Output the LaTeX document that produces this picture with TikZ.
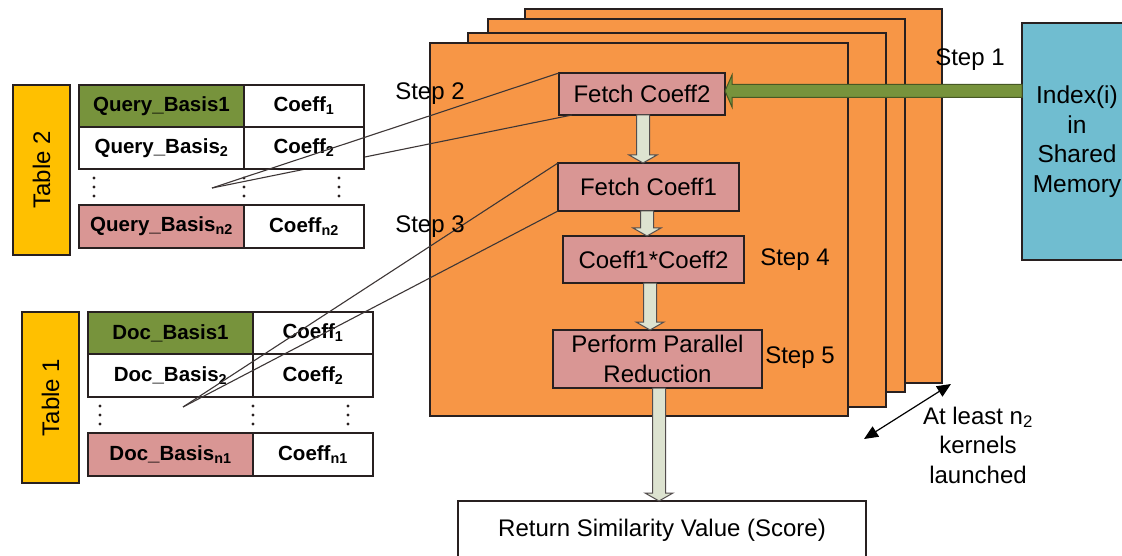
\documentclass[tikz,border=0pt]{standalone}
\usepackage{fontspec}
\setmainfont{Liberation Sans}
\usetikzlibrary{arrows.meta,calc}
\definecolor{korange}{HTML}{F79646}
\definecolor{kpink}{HTML}{D99694}
\definecolor{kgreen}{HTML}{77933C}
\definecolor{kblue}{RGB}{112,189,208}
\definecolor{kyellow}{HTML}{FFC000}
\definecolor{karrow}{RGB}{221,227,208}
\definecolor{edge}{RGB}{40,32,32}
\tikzset{
  kernel/.style={draw=edge, fill=korange, line width=1.3pt},
  stepbox/.style={draw=edge, fill=kpink, line width=1.3pt, inner sep=0pt, outer sep=0pt,
    anchor=north west, align=center, font=\fontsize{24}{30}\selectfont},
  cell/.style={draw=edge, line width=1.2pt, fill=white, inner sep=0pt, outer sep=0pt,
    anchor=north west, font=\bfseries\fontsize{20.5}{24}\selectfont},
  tablabel/.style={draw=edge, fill=kyellow, line width=1.2pt, inner sep=0pt, rotate=90,
    font=\fontsize{24}{28}\selectfont},
  steplabel/.style={inner sep=0pt, font=\fontsize{24}{29.5}\selectfont, align=center},
  link/.style={draw=edge!90, line width=1.1pt},
  blockarrow/.style={draw=edge!80, fill=karrow, line width=1pt, line join=miter},
  greenarrow/.style={draw=kgreen!60!black, fill=kgreen, line width=1pt},
}
\newcommand\blockarr[3]{%
  \draw[blockarrow] let \p1=(#2.south), \p2=(#3.north) in
    (#1pt-6.5pt,\y1) -- (#1pt-6.5pt,\y2+8pt) -- (#1pt-14pt,\y2+8pt) -- (#1pt,\y2)
    -- (#1pt+14pt,\y2+8pt) -- (#1pt+6.5pt,\y2+8pt) -- (#1pt+6.5pt,\y1) -- cycle;}
\begin{document}
\begin{tikzpicture}[x=1pt,y=-1pt]
\useasboundingbox (0,0) rectangle (1122,556);
\clip (0,0) rectangle (1122,556);
\fill[white] (0,0) rectangle (1122,556);

% stacked kernels
\draw[kernel] (525,9) rectangle (942,383);
\draw[kernel] (488,19) rectangle (905,392);
\draw[kernel] (468,33) rectangle (886,407);
\draw[kernel] (430,43) rectangle (848,416);

% step boxes
\node[stepbox, minimum width=166pt, minimum height=42pt] (fc2) at (559,73) {Fetch Coeff2};
\node[stepbox, minimum width=181pt, minimum height=48pt] (fc1) at (558,163) {Fetch Coeff1};
\node[stepbox, minimum width=181pt, minimum height=47pt] (mul) at (563,236) {Coeff1*Coeff2};
\node[stepbox, minimum width=209pt, minimum height=58pt] (red) at (553,330) {Perform Parallel\\Reduction};
\node[draw=edge, fill=white, line width=1.3pt, inner sep=0pt, outer sep=0pt, anchor=north west,
  minimum width=408pt, minimum height=58pt, font=\fontsize{24}{29}\selectfont] (ret) at (458,501)
  {Return Similarity Value (Score)};

% index box
\node[draw=edge, fill=kblue, line width=1.3pt, inner sep=0pt, outer sep=0pt, anchor=north west,
  minimum width=110pt, minimum height=237pt, align=center, font=\fontsize{24.5}{29.5}\selectfont]
  (idx) at (1022,23) {Index(i)\\in\\Shared\\Memory};

% free ends of the fetch lines
\coordinate (q2) at (212,188);
\coordinate (d2) at (183,407);

% line hidden behind table 2
\draw[link] (q2) -- ($(fc2.south west)+(13,0)$);

% Table 2
\node[tablabel, minimum width=170pt, minimum height=57pt] (t2) at (41.5,170) {Table 2};
\node[cell, fill=kgreen, minimum width=165pt, minimum height=42pt] (qb1) at (79,85) {Query\_Basis1};
\node[cell, minimum width=120pt, minimum height=42pt] (qc1) at (244,85) {Coeff\textsubscript{1}};
\node[cell, minimum width=165pt, minimum height=42pt] (qb2) at (79,127) {Query\_Basis\textsubscript{2}};
\node[cell, minimum width=120pt, minimum height=42pt] (qc2) at (244,127) {Coeff\textsubscript{2}};
\node[cell, fill=kpink, minimum width=165pt, minimum height=43pt] (qbn) at (79,205) {Query\_Basis\textsubscript{n2}};
\node[cell, minimum width=120pt, minimum height=43pt] (qcn) at (244,205) {Coeff\textsubscript{n2}};
\foreach \px in {94,244,339}
  \foreach \py in {178,187,196}
    \fill[edge] (\px,\py) circle[radius=1.7pt];

% Table 1
\node[tablabel, minimum width=171pt, minimum height=57pt] (t1) at (50.5,397.5) {Table 1};
\node[cell, fill=kgreen, minimum width=165pt, minimum height=42pt] (db1) at (88,312) {Doc\_Basis1};
\node[cell, minimum width=120pt, minimum height=42pt] (dc1) at (253,312) {Coeff\textsubscript{1}};
\node[cell, minimum width=165pt, minimum height=43pt] (db2) at (88,354) {Doc\_Basis\textsubscript{2}};
\node[cell, minimum width=120pt, minimum height=43pt] (dc2) at (253,354) {Coeff\textsubscript{2}};
\node[cell, fill=kpink, minimum width=165pt, minimum height=43pt] (dbn) at (88,433) {Doc\_Basis\textsubscript{n1}};
\node[cell, minimum width=120pt, minimum height=43pt] (dcn) at (253,433) {Coeff\textsubscript{n1}};
\foreach \px in {100,253,348}
  \foreach \py in {406,415,424}
    \fill[edge] (\px,\py) circle[radius=1.7pt];

% visible fetch lines
\draw[link] (fc2.north west) -- (q2);
\draw[link] (fc1.north west) -- (d2);
\draw[link] (fc1.south west) -- (d2);

% block arrows
\blockarr{643}{fc2}{fc1}
\blockarr{647}{fc1}{mul}
\blockarr{650}{mul}{red}
\blockarr{659}{red}{ret}

% green arrow from shared memory
\draw[greenarrow] let \p1=(idx.west), \p2=(fc2.east) in
  (\x1,\y2+9.5pt) -- (\x2+7pt,\y2+9.5pt) -- (\x2+7pt,\y2+19pt) -- (\x2,\y2+3pt)
  -- (\x2+7pt,\y2-13pt) -- (\x2+7pt,\y2-3.5pt) -- (\x1,\y2-3.5pt) -- cycle;

% step labels
\node[steplabel] (s1) at (970,60) {Step 1};
\node[steplabel] (s2) at (430,94) {Step 2};
\node[steplabel] (s3) at (430,227) {Step 3};
\node[steplabel] (s4) at (795,260) {Step 4};
\node[steplabel] (s5) at (800,358) {Step 5};

% kernel count
\coordinate (dA) at (864,439);
\coordinate (dB) at (951,384);
\draw[line width=1.2pt, {Triangle[length=14pt,width=12pt]}-{Triangle[length=14pt,width=12pt]}] (dA) -- (dB);
\node[steplabel] (atl) at (978,445) {At least n\textsubscript{2}\\kernels\\launched};
\end{tikzpicture}
\end{document}
